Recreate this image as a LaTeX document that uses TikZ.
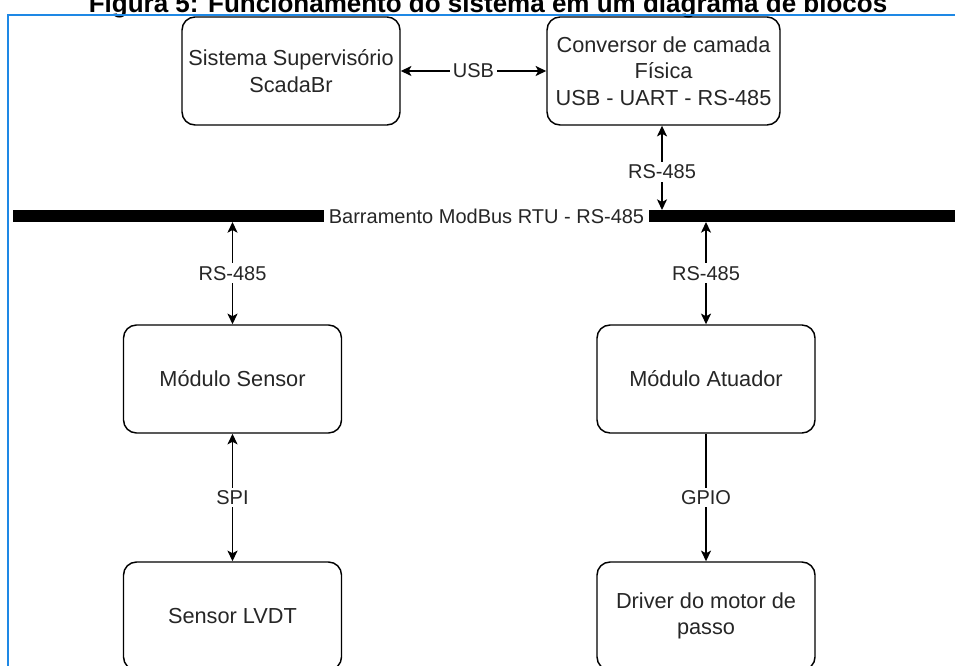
\documentclass[tikz,border=0pt]{standalone}
\usepackage{fontspec}
\setmainfont{Liberation Sans}
\usepackage[x11names, rgb]{xcolor}
\usepackage{tikz}
\usetikzlibrary{arrows.meta,shapes}

\definecolor{frameblue}{RGB}{30,136,229}

\begin{document}
\begin{tikzpicture}
[x=0.75pt, y=-0.75pt, >={Stealth[length=8pt,width=7.5pt,inset=2pt]}]
\tikzset{
	block/.style = {draw, rounded corners=9.75pt, line width=1.1pt, minimum width=163.5pt, minimum height=81pt, align=center, text=black!85, font=\fontsize{16.3}{20}\selectfont},
	link/.style = {line width=1.1pt},
	lbl/.style = {fill=white, inner sep=2pt, text=black!85, font=\fontsize{15}{18}\selectfont},
	bus/.style = {line width=9pt},
	frame/.style = {draw=frameblue, line width=1.5pt}
}

\useasboundingbox (0,0) rectangle (955,666);
\clip (0,0) rectangle (955,666);

\node (title) [anchor=base, font=\bfseries\fontsize{19.5}{22}\selectfont] at (488,13) {Figura 5: Funcionamento do sistema em um diagrama de blocos};
\draw [frame] (8,670) |- (960,15);

\node (scada) [block] at (291,71) {Sistema Supervisório\\ScadaBr};
\node (conv) [block, minimum width=174.75pt] at (663.5,71) {Conversor de camada\\Física\\USB - UART - RS-485};
\node (msens) [block] at (232.5,379) {Módulo Sensor};
\node (lvdt) [block] at (232.5,616) {Sensor LVDT};
\node (matu) [block] at (706,379) {Módulo Atuador};
\node (drv) [block] at (706,616) {Driver do motor de\\passo};

\coordinate (busW) at (13,216);
\coordinate (busE) at (960,216);
\coordinate (busC) at (662,210);
\coordinate (busS) at (232.5,222);
\coordinate (busA) at (706,222);

\draw [bus] (busW) -- (busE) node [lbl, inner xsep=3.5pt, midway] {Barramento ModBus RTU - RS-485};

\draw [<->, link] (scada) -- (conv) node [lbl, midway] {USB};
\draw [<->, link] (conv.south -| busC) -- (busC) node [lbl, pos=0.55] {RS-485};
\draw [<->, link] (busS) -- (msens) node [lbl, midway] {RS-485};
\draw [<->, link] (busA) -- (matu) node [lbl, midway] {RS-485};
\draw [<->, link] (msens) -- (lvdt) node [lbl, midway] {SPI};
\draw [->, link] (matu) -- (drv) node [lbl, midway] {GPIO};
\end{tikzpicture}
\end{document}
